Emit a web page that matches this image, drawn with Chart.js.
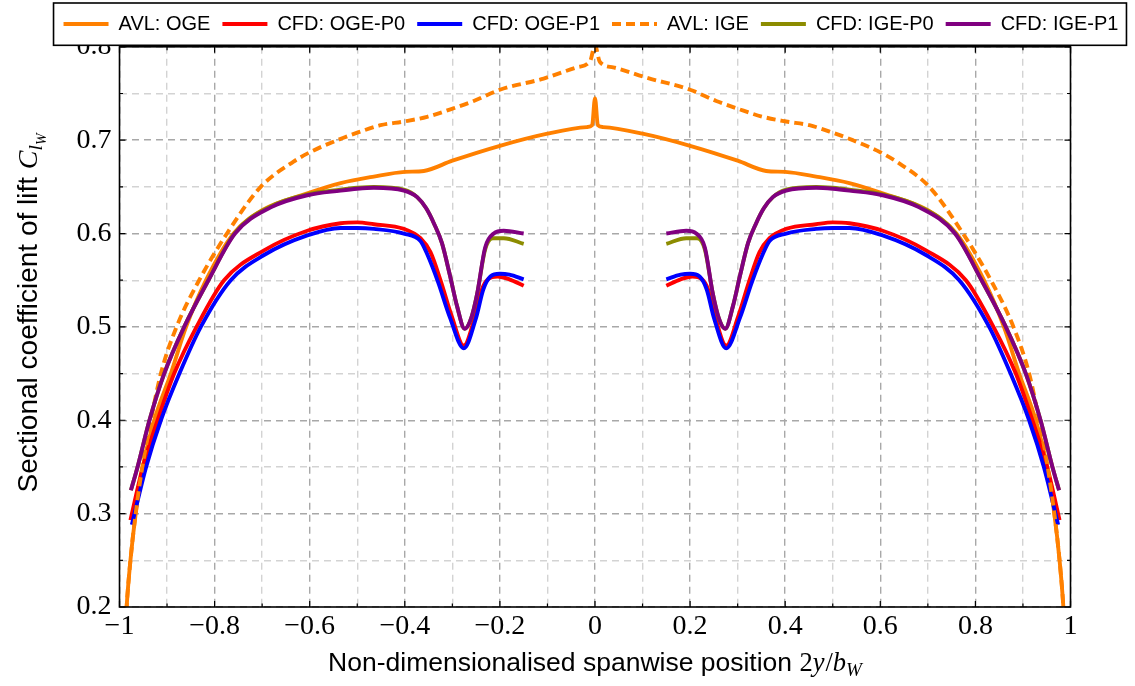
<!DOCTYPE html>
<html>
<head>
<meta charset="utf-8">
<script src="https://cdn.jsdelivr.net/npm/chart.js@4.4.0/dist/chart.umd.min.js"></script>
<style>
  html, body { margin: 0; padding: 0; background: #ffffff; }
  canvas { display: block; }
</style>
</head>
<body>
<canvas id="c" width="1135" height="686"></canvas>
<script>
// ---- Spanwise lift distributions (x = 2y/b_W, y = C_l_W) ----

// AVL, out of ground effect
const avlOgeX = [-0.99, -0.985, -0.977, -0.966, -0.951, -0.927, -0.892, -0.86, -0.818, -0.76, -0.70, -0.605, -0.535, -0.465, -0.40, -0.36, -0.30, -0.20, -0.10, -0.017, -0.006, 0, 0.006, 0.017, 0.10, 0.20, 0.30, 0.36, 0.40, 0.465, 0.535, 0.605, 0.70, 0.76, 0.818, 0.86, 0.892, 0.927, 0.951, 0.966, 0.977, 0.985, 0.99];
const avlOgeY = [0.15, 0.20, 0.25, 0.30, 0.35, 0.40, 0.45, 0.50, 0.55, 0.60, 0.625, 0.643, 0.654, 0.661, 0.666, 0.667, 0.678, 0.694, 0.707, 0.714, 0.716, 0.745, 0.716, 0.714, 0.707, 0.694, 0.678, 0.667, 0.666, 0.661, 0.654, 0.643, 0.625, 0.60, 0.55, 0.50, 0.45, 0.40, 0.35, 0.30, 0.25, 0.20, 0.15];

// AVL, in ground effect
const avlIgeX = [-0.99, -0.985, -0.977, -0.966, -0.952, -0.934, -0.913, -0.88, -0.8325, -0.774, -0.703, -0.634, -0.60, -0.542, -0.50, -0.451, -0.402, -0.353, -0.304, -0.255, -0.20, -0.108, -0.038, -0.01, 0, 0.01, 0.038, 0.108, 0.20, 0.255, 0.304, 0.353, 0.402, 0.451, 0.50, 0.542, 0.60, 0.634, 0.703, 0.774, 0.8325, 0.88, 0.913, 0.934, 0.952, 0.966, 0.977, 0.985, 0.99];
const avlIgeY = [0.15, 0.20, 0.25, 0.30, 0.35, 0.40, 0.45, 0.50, 0.55, 0.60, 0.65, 0.677, 0.687, 0.70, 0.708, 0.716, 0.72, 0.725, 0.733, 0.742, 0.754, 0.766, 0.778, 0.785, 0.802, 0.784, 0.778, 0.767, 0.754, 0.742, 0.733, 0.725, 0.72, 0.716, 0.708, 0.70, 0.687, 0.677, 0.65, 0.60, 0.55, 0.50, 0.45, 0.40, 0.35, 0.30, 0.25, 0.20, 0.15];

// CFD, out of ground effect, propeller case P0 (fuselage gap at the root)
const cfdOgeP0X = [-0.977, -0.951, -0.92, -0.885, -0.838, -0.78, -0.696, -0.605, -0.535, -0.50, -0.465, -0.402, -0.367, -0.346, -0.325, -0.301, -0.276, -0.252, -0.238, -0.225, -0.205, -0.18, -0.15, 0, 0.15, 0.18, 0.205, 0.225, 0.238, 0.252, 0.276, 0.301, 0.325, 0.346, 0.367, 0.402, 0.465, 0.50, 0.535, 0.605, 0.696, 0.78, 0.838, 0.885, 0.92, 0.951, 0.977];
const cfdOgeP0Y = [0.293, 0.35, 0.40, 0.45, 0.50, 0.55, 0.582, 0.603, 0.611, 0.612, 0.610, 0.605, 0.595, 0.580, 0.550, 0.511, 0.480, 0.512, 0.540, 0.551, 0.554, 0.551, 0.544, null, 0.544, 0.551, 0.554, 0.551, 0.540, 0.512, 0.480, 0.511, 0.550, 0.580, 0.595, 0.605, 0.610, 0.612, 0.611, 0.603, 0.582, 0.55, 0.50, 0.45, 0.40, 0.35, 0.293];

// CFD, out of ground effect, propeller case P1
const cfdOgeP1X = [-0.974, -0.944, -0.913, -0.874, -0.829, -0.766, -0.696, -0.605, -0.535, -0.50, -0.465, -0.402, -0.367, -0.353, -0.33, -0.305, -0.276, -0.25, -0.235, -0.22, -0.20, -0.18, -0.15, 0, 0.15, 0.18, 0.20, 0.22, 0.235, 0.25, 0.276, 0.305, 0.33, 0.353, 0.367, 0.402, 0.465, 0.50, 0.535, 0.605, 0.696, 0.766, 0.829, 0.874, 0.913, 0.944, 0.974];
const cfdOgeP1Y = [0.288, 0.35, 0.40, 0.45, 0.50, 0.55, 0.577, 0.598, 0.606, 0.606, 0.605, 0.600, 0.592, 0.578, 0.548, 0.510, 0.477, 0.510, 0.540, 0.554, 0.557, 0.556, 0.551, null, 0.551, 0.556, 0.557, 0.554, 0.540, 0.510, 0.477, 0.510, 0.548, 0.578, 0.592, 0.600, 0.605, 0.606, 0.606, 0.598, 0.577, 0.55, 0.50, 0.45, 0.40, 0.35, 0.288];

// CFD, in ground effect, propeller case P0
const cfdIgeP0X = [-0.976, -0.962, -0.937, -0.906, -0.864, -0.813, -0.757, -0.682, -0.605, -0.535, -0.50, -0.465, -0.402, -0.374, -0.355, -0.338, -0.322, -0.305, -0.29, -0.274, -0.26, -0.248, -0.231, -0.215, -0.192, -0.15, 0, 0.15, 0.192, 0.215, 0.231, 0.248, 0.26, 0.274, 0.29, 0.305, 0.322, 0.338, 0.355, 0.374, 0.402, 0.465, 0.50, 0.535, 0.605, 0.682, 0.757, 0.813, 0.864, 0.906, 0.937, 0.962, 0.976];
const cfdIgeP0Y = [0.325, 0.35, 0.40, 0.45, 0.50, 0.55, 0.601, 0.629, 0.642, 0.647, 0.649, 0.650, 0.647, 0.639, 0.627, 0.610, 0.590, 0.555, 0.522, 0.498, 0.510, 0.535, 0.583, 0.595, 0.595, 0.589, null, 0.589, 0.595, 0.595, 0.583, 0.535, 0.510, 0.498, 0.522, 0.555, 0.590, 0.610, 0.627, 0.639, 0.647, 0.650, 0.649, 0.647, 0.642, 0.629, 0.601, 0.55, 0.50, 0.45, 0.40, 0.35, 0.325];

// CFD, in ground effect, propeller case P1
const cfdIgeP1X = [-0.976, -0.962, -0.937, -0.906, -0.864, -0.813, -0.757, -0.682, -0.605, -0.535, -0.50, -0.465, -0.402, -0.374, -0.355, -0.338, -0.322, -0.305, -0.29, -0.274, -0.26, -0.248, -0.231, -0.213, -0.192, -0.15, 0, 0.15, 0.192, 0.213, 0.231, 0.248, 0.26, 0.274, 0.29, 0.305, 0.322, 0.338, 0.355, 0.374, 0.402, 0.465, 0.50, 0.535, 0.605, 0.682, 0.757, 0.813, 0.864, 0.906, 0.937, 0.962, 0.976];
const cfdIgeP1Y = [0.325, 0.35, 0.40, 0.45, 0.50, 0.55, 0.60, 0.628, 0.641, 0.646, 0.648, 0.649, 0.646, 0.639, 0.627, 0.610, 0.590, 0.555, 0.522, 0.498, 0.510, 0.535, 0.585, 0.600, 0.603, 0.600, null, 0.600, 0.603, 0.600, 0.585, 0.535, 0.510, 0.498, 0.522, 0.555, 0.590, 0.610, 0.627, 0.639, 0.646, 0.649, 0.648, 0.646, 0.641, 0.628, 0.60, 0.55, 0.50, 0.45, 0.40, 0.35, 0.325];

const seriesNames = ['AVL: OGE', 'CFD: OGE-P0', 'CFD: OGE-P1', 'AVL: IGE', 'CFD: IGE-P0', 'CFD: IGE-P1'];
const seriesColors = ['#ff8000', '#ff0000', '#0000ff', '#ff8000', '#8c8c00', '#800080'];

// axis ranges and tick spacing
const xRange = [-1, 1];
const yRange = [0.2, 0.8];
const xStep = 0.1;
const yStep = 0.05;

const LINE_W = 3.9;
const DASH = [9, 5];

const toPoints = (xs, ys) => xs.map((x, i) => ({ x: x, y: ys[i] }));
const seriesData = [
  toPoints(avlOgeX, avlOgeY),
  toPoints(cfdOgeP0X, cfdOgeP0Y),
  toPoints(cfdOgeP1X, cfdOgeP1Y),
  toPoints(avlIgeX, avlIgeY),
  toPoints(cfdIgeP0X, cfdIgeP0Y),
  toPoints(cfdIgeP1X, cfdIgeP1Y)
];

const isMajorX = v => Math.abs(Math.round(v * 10)) % 2 === 0;
const isMajorY = v => Math.abs(Math.round(v * 100)) % 10 === 0;

function xLabel(v) {
  if (!isMajorX(v)) return '';
  const n = Math.round(v * 10) / 10;
  if (n === 0) return '0';
  const a = Math.abs(n);
  const s = a === 1 ? '1' : a.toFixed(1);
  return n < 0 ? '\u2212' + s : s;
}
function yLabel(v) {
  if (!isMajorY(v)) return '';
  return (Math.round(v * 10) / 10).toFixed(1);
}

const GRID_MAJOR = '#a8a8a8';
const GRID_MINOR = '#d3d3d3';
const SANS = '"Liberation Sans", Arial, sans-serif';
const SERIF = '"Liberation Serif", "Times New Roman", serif';

// draws a run of differently styled text pieces centred on (cx, baseline)
function drawRun(ctx, parts, cx, base) {
  let total = 0;
  parts.forEach(p => { ctx.font = p.font; p.w = ctx.measureText(p.text).width; total += p.w + (p.kern || 0); });
  let x = cx - total / 2;
  parts.forEach(p => {
    ctx.font = p.font;
    ctx.fillText(p.text, x, base + (p.dy || 0));
    x += p.w + (p.kern || 0);
  });
}

const framePlugin = {
  id: 'frameTitlesLegendBox',
  afterDraw(chart) {
    const { ctx, chartArea: a, scales } = chart;
    const xs = scales.x, ys = scales.y;
    ctx.save();

    // inward tick marks on all four sides
    ctx.strokeStyle = '#000';
    ctx.lineWidth = 1.2;
    ctx.beginPath();
    xs.ticks.forEach(t => {
      const px = xs.getPixelForValue(t.value);
      const len = isMajorX(t.value) ? 6 : 3.5;
      ctx.moveTo(px, a.bottom); ctx.lineTo(px, a.bottom - len);
      ctx.moveTo(px, a.top); ctx.lineTo(px, a.top + len);
    });
    ys.ticks.forEach(t => {
      const py = ys.getPixelForValue(t.value);
      const len = isMajorY(t.value) ? 6 : 3.5;
      ctx.moveTo(a.left, py); ctx.lineTo(a.left + len, py);
      ctx.moveTo(a.right, py); ctx.lineTo(a.right - len, py);
    });
    ctx.stroke();

    // plot frame
    ctx.lineWidth = 1.6;
    ctx.strokeRect(a.left, a.top, a.right - a.left, a.bottom - a.top);

    // axis titles
    ctx.fillStyle = '#000';
    ctx.textAlign = 'left';
    ctx.textBaseline = 'alphabetic';
    const cx = (a.left + a.right) / 2;
    drawRun(ctx, [
      { text: 'Non-dimensionalised spanwise position ', font: '26.5px ' + SANS },
      { text: '2', font: '26.5px ' + SERIF },
      { text: 'y', font: 'italic 26.5px ' + SERIF, kern: 1 },
      { text: '/', font: '26.5px ' + SERIF },
      { text: 'b', font: 'italic 26.5px ' + SERIF },
      { text: 'W', font: 'italic 19px ' + SERIF, dy: 5 }
    ], cx, 671);

    ctx.save();
    ctx.translate(37, (a.top + a.bottom) / 2 - 14);
    ctx.rotate(-Math.PI / 2);
    drawRun(ctx, [
      { text: 'Sectional coefficient of lift ', font: '28px ' + SANS },
      { text: 'C', font: 'italic 28px ' + SERIF },
      { text: 'l', font: 'italic 19.5px ' + SERIF, dy: 5 },
      { text: 'W', font: 'italic 14px ' + SERIF, dy: 9 }
    ], 0, 0);
    ctx.restore();

    // legend frame (drawn on top of the plot), then the legend entries again
    const lg = chart.legend;
    const hb = lg.legendHitBoxes;
    if (hb && hb.length) {
      const left = hb[0].left - 10;
      const last = hb[hb.length - 1];
      const right = last.left + last.width + 8;
      const top = 3, bottom = a.top - 1.5;
      ctx.fillStyle = '#fff';
      ctx.fillRect(left, top, right - left, bottom - top);
      ctx.strokeStyle = '#000';
      ctx.lineWidth = 1.6;
      ctx.strokeRect(left, top, right - left, bottom - top);
    }
    ctx.restore();
    lg.draw();
  }
};

const datasets = seriesData.map((pts, i) => ({
  label: seriesNames[i],
  data: pts,
  borderColor: seriesColors[i],
  backgroundColor: seriesColors[i],
  borderWidth: LINE_W,
  borderDash: i === 3 ? DASH : [],
  borderCapStyle: 'butt',
  pointRadius: 0,
  pointHoverRadius: 0,
  pointStyle: 'line',
  fill: false,
  spanGaps: false,
  cubicInterpolationMode: 'monotone',
  order: seriesData.length - i
}));

// legend entries: line samples carry each dataset's stroke, width and dash
function legendLabels(chart) {
  const items = Chart.defaults.plugins.legend.labels.generateLabels(chart);
  items.forEach(it => {
    const ds = chart.data.datasets[it.datasetIndex];
    it.strokeStyle = ds.borderColor;
    it.fillStyle = ds.borderColor;
    it.lineWidth = ds.borderWidth;
    it.lineDash = ds.borderDash;
    it.lineCap = 'butt';
    it.pointStyle = 'line';
  });
  return items;
}

new Chart(document.getElementById('c'), {
  type: 'line',
  data: { datasets: datasets },
  plugins: [framePlugin],
  options: {
    responsive: false,
    animation: false,
    devicePixelRatio: 1,
    events: [],
    layout: { padding: { left: 47, right: 0, top: 2, bottom: 0 } },
    plugins: {
      tooltip: { enabled: false },
      legend: {
        display: true,
        position: 'top',
        labels: {
          usePointStyle: true,
          pointStyleWidth: 45,
          padding: 12,
          color: '#000',
          font: { family: SANS, size: 20 },
          generateLabels: legendLabels,
          sort: (p, q) => p.datasetIndex - q.datasetIndex
        }
      }
    },
    scales: {
      x: {
        type: 'linear',
        position: 'bottom',
        min: xRange[0], max: xRange[1],
        afterFit: s => { s.height = 79; },
        border: { display: false, dash: [7, 5] },
        grid: {
          drawTicks: false,
          lineWidth: 1.4,
          color: c => isMajorX(c.tick.value) ? GRID_MAJOR : GRID_MINOR
        },
        ticks: {
          stepSize: xStep,
          autoSkip: false,
          maxRotation: 0,
          padding: 3,
          color: '#000',
          font: { family: SERIF, size: 28 },
          callback: v => xLabel(v)
        }
      },
      y: {
        type: 'linear',
        position: 'left',
        min: yRange[0], max: yRange[1],
        afterFit: s => { s.width = 72.5; },
        border: { display: false, dash: [7, 5] },
        grid: {
          drawTicks: false,
          lineWidth: 1.4,
          color: c => isMajorY(c.tick.value) ? GRID_MAJOR : GRID_MINOR
        },
        ticks: {
          stepSize: yStep,
          autoSkip: false,
          padding: 8,
          color: '#000',
          font: { family: SERIF, size: 28 },
          callback: v => yLabel(v)
        }
      },
      xTop: {
        type: 'linear',
        position: 'top',
        afterFit: s => { s.height = 2.8; },
        border: { display: false },
        grid: { display: false, drawTicks: false },
        ticks: { display: false }
      },
      yRight: {
        type: 'linear',
        position: 'right',
        afterFit: s => { s.width = 64.5; },
        border: { display: false },
        grid: { display: false, drawTicks: false },
        ticks: { display: false }
      }
    }
  }
});
</script>
</body>
</html>
